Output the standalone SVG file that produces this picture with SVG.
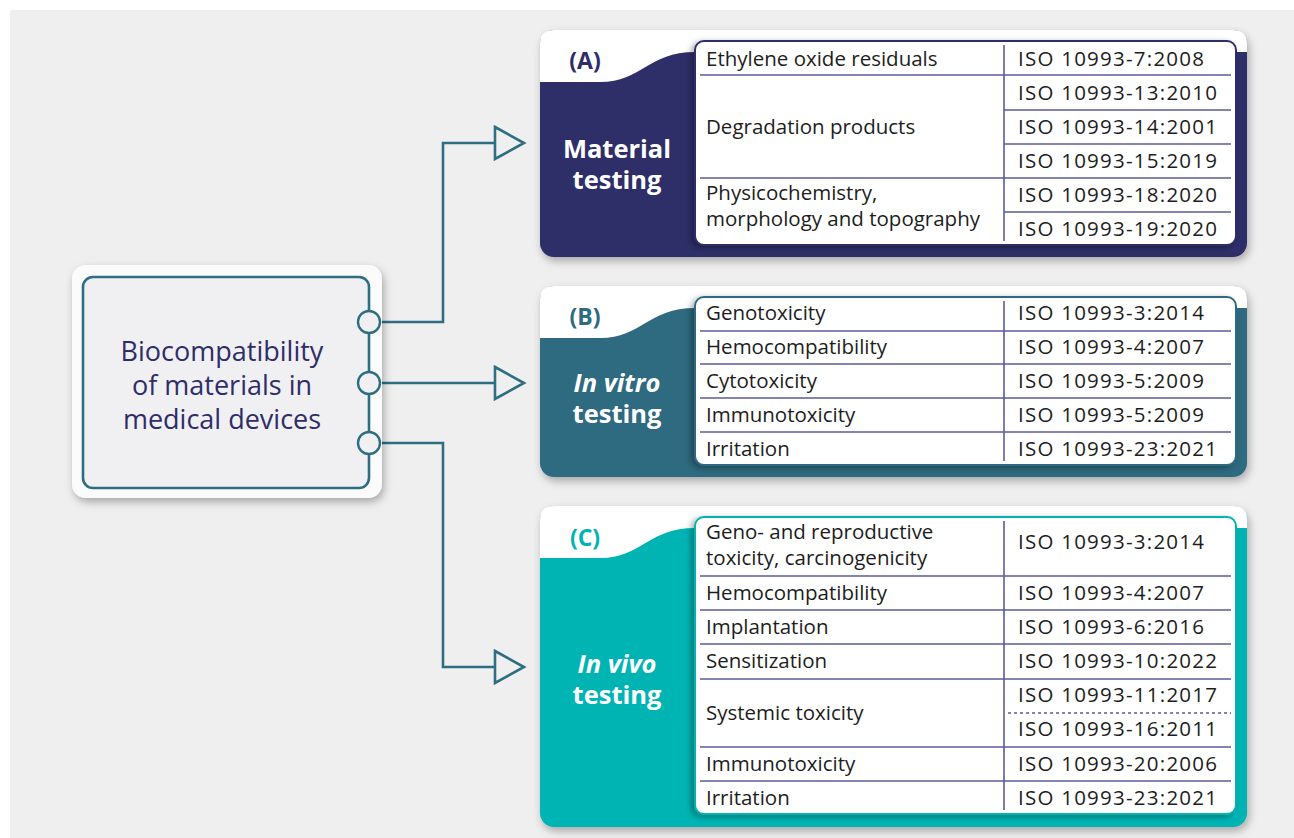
<svg xmlns="http://www.w3.org/2000/svg" width="1294" height="838" viewBox="0 0 1294 838">
  <style>
    .cell { font-family: "Open Sans", "Noto Sans", sans-serif; font-size: 20.5px; fill: #1d1d1d; }
    .node-text { font-family: "Open Sans", "Noto Sans", sans-serif; font-size: 27px; fill: #2e2d69; text-anchor: middle; }
    .tag { font-family: "Open Sans", "Noto Sans", sans-serif; font-size: 23px; font-weight: 700; text-anchor: middle; }
    .title { font-family: "Open Sans", "Noto Sans", sans-serif; font-size: 25.5px; font-weight: 700; fill: #ffffff; text-anchor: middle; }
    .rule { stroke: #5b5b99; stroke-width: 1.6; fill: none; }
    .dotted { stroke: #5b5b99; stroke-width: 1.4; stroke-dasharray: 3 3; fill: none; }
    .table { fill: #ffffff; stroke-width: 2; }
    .link { fill: none; stroke: #2e6e82; stroke-width: 2.6; }
  </style>
  <defs>
    <filter id="cardShadow" x="-5%" y="-8%" width="112%" height="120%">
      <feDropShadow dx="2" dy="4" stdDeviation="4" flood-color="#000" flood-opacity="0.3"/>
    </filter>
    <filter id="tableShadow" x="-5%" y="-8%" width="110%" height="116%">
      <feDropShadow dx="-3" dy="2" stdDeviation="3" flood-color="#000" flood-opacity="0.35"/>
    </filter>
    <marker id="openArrow" markerUnits="userSpaceOnUse" viewBox="-2 -2 34 36" refX="0" refY="16" markerWidth="34" markerHeight="36" orient="auto">
      <path d="M0,0 L29,16 L0,32 Z" fill="#efefef" stroke="#2e6e82" stroke-width="2.6" stroke-linejoin="miter"/>
    </marker>
  </defs>

  <!-- page background -->
  <rect x="0" y="0" width="1294" height="838" fill="#ffffff"/>
  <rect x="10" y="10" width="1284" height="828" fill="#efefef"/>

  <!-- connectors -->
  <g id="connectors">
    <path class="link" d="M380,322 H443 V143 H495" marker-end="url(#openArrow)"/>
    <path class="link" d="M380,383 H495" marker-end="url(#openArrow)"/>
    <path class="link" d="M380,443 H443 V667 H495" marker-end="url(#openArrow)"/>
  </g>

  <!-- source node -->
  <g id="node-biocompatibility">
    <rect x="72" y="265" width="310" height="233" rx="14" fill="#fbfbfb" filter="url(#cardShadow)"/>
    <rect x="83" y="277" width="286" height="211" rx="10" fill="#f0f0f2" stroke="#2e6e82" stroke-width="2.6"/>
    <circle cx="369" cy="322" r="11" fill="#f0f0f2" stroke="#2e6e82" stroke-width="2.4"/>
    <circle cx="369" cy="383" r="11" fill="#f0f0f2" stroke="#2e6e82" stroke-width="2.4"/>
    <circle cx="369" cy="443" r="11" fill="#f0f0f2" stroke="#2e6e82" stroke-width="2.4"/>
    <text class="node-text" x="222" y="361">Biocompatibility<tspan x="222" dy="34">of materials in</tspan><tspan x="222" dy="34">medical devices</tspan></text>
  </g>

  <!-- (A) Material testing -->
  <g id="panel-material">
    <rect x="540" y="30" width="707" height="227" rx="14" fill="#2e2d69" filter="url(#cardShadow)"/>
    <path d="M540,82 L600,82 C642,82 648,52 695,52 L1247,52 L1247,44 Q1247,30 1233,30 L554,30 Q540,30 540,44 Z" fill="#ffffff"/>
    <text class="tag" x="585" y="69" fill="#2e2d69">(A)</text>
    <text class="title" x="617" y="158">Material<tspan x="617" dy="31">testing</tspan></text>
    <rect class="table" x="695" y="41" width="541" height="204" rx="9" stroke="#2e2d69" filter="url(#tableShadow)"/>
    <line class="rule" x1="1004" y1="45" x2="1004" y2="241"/>
    <line class="rule" x1="700" y1="75" x2="1231" y2="75"/>
    <line class="rule" x1="1004" y1="110" x2="1231" y2="110"/>
    <line class="rule" x1="1004" y1="144" x2="1231" y2="144"/>
    <line class="rule" x1="700" y1="178" x2="1231" y2="178"/>
    <line class="rule" x1="1004" y1="212" x2="1231" y2="212"/>
    <text class="cell" x="706" y="66">Ethylene oxide residuals</text>
    <text class="cell" x="706" y="134">Degradation products</text>
    <text class="cell" x="706" y="200">Physicochemistry,<tspan x="706" dy="26">morphology and topography</tspan></text>
    <text class="cell" x="1018" y="66" textLength="186" lengthAdjust="spacing">ISO 10993-7:2008</text>
    <text class="cell" x="1018" y="100" textLength="199" lengthAdjust="spacing">ISO 10993-13:2010</text>
    <text class="cell" x="1018" y="134" textLength="199" lengthAdjust="spacing">ISO 10993-14:2001</text>
    <text class="cell" x="1018" y="168" textLength="199" lengthAdjust="spacing">ISO 10993-15:2019</text>
    <text class="cell" x="1018" y="202" textLength="199" lengthAdjust="spacing">ISO 10993-18:2020</text>
    <text class="cell" x="1018" y="236" textLength="199" lengthAdjust="spacing">ISO 10993-19:2020</text>
  </g>

  <!-- (B) In vitro testing -->
  <g id="panel-in-vitro">
    <rect x="540" y="286" width="707" height="191" rx="14" fill="#2e6b80" filter="url(#cardShadow)"/>
    <path d="M540,338 L600,338 C642,338 648,308 695,308 L1247,308 L1247,300 Q1247,286 1233,286 L554,286 Q540,286 540,300 Z" fill="#ffffff"/>
    <text class="tag" x="585" y="325" fill="#2e6b80">(B)</text>
    <text class="title" x="617" y="392"><tspan font-style="italic">In vitro</tspan><tspan x="617" dy="31">testing</tspan></text>
    <rect class="table" x="695" y="297" width="541" height="168" rx="9" stroke="#2e6b80" filter="url(#tableShadow)"/>
    <line class="rule" x1="1004" y1="301" x2="1004" y2="461"/>
    <line class="rule" x1="700" y1="331" x2="1231" y2="331"/>
    <line class="rule" x1="700" y1="364" x2="1231" y2="364"/>
    <line class="rule" x1="700" y1="398" x2="1231" y2="398"/>
    <line class="rule" x1="700" y1="432" x2="1231" y2="432"/>
    <text class="cell" x="706" y="320">Genotoxicity</text>
    <text class="cell" x="706" y="354">Hemocompatibility</text>
    <text class="cell" x="706" y="388">Cytotoxicity</text>
    <text class="cell" x="706" y="422">Immunotoxicity</text>
    <text class="cell" x="706" y="456">Irritation</text>
    <text class="cell" x="1018" y="320" textLength="186" lengthAdjust="spacing">ISO 10993-3:2014</text>
    <text class="cell" x="1018" y="354" textLength="186" lengthAdjust="spacing">ISO 10993-4:2007</text>
    <text class="cell" x="1018" y="388" textLength="186" lengthAdjust="spacing">ISO 10993-5:2009</text>
    <text class="cell" x="1018" y="422" textLength="186" lengthAdjust="spacing">ISO 10993-5:2009</text>
    <text class="cell" x="1018" y="456" textLength="199" lengthAdjust="spacing">ISO 10993-23:2021</text>
  </g>

  <!-- (C) In vivo testing -->
  <g id="panel-in-vivo">
    <rect x="540" y="506" width="707" height="321" rx="14" fill="#00b4b4" filter="url(#cardShadow)"/>
    <path d="M540,558 L600,558 C642,558 648,528 695,528 L1247,528 L1247,520 Q1247,506 1233,506 L554,506 Q540,506 540,520 Z" fill="#ffffff"/>
    <text class="tag" x="585" y="546" fill="#00b4b4">(C)</text>
    <text class="title" x="617" y="673"><tspan font-style="italic">In vivo</tspan><tspan x="617" dy="31">testing</tspan></text>
    <rect class="table" x="695" y="517" width="541" height="297" rx="9" stroke="#00b4b4" filter="url(#tableShadow)"/>
    <line class="rule" x1="1004" y1="521" x2="1004" y2="810"/>
    <line class="rule" x1="700" y1="576" x2="1231" y2="576"/>
    <line class="rule" x1="700" y1="610" x2="1231" y2="610"/>
    <line class="rule" x1="700" y1="644" x2="1231" y2="644"/>
    <line class="rule" x1="700" y1="679" x2="1231" y2="679"/>
    <line class="dotted" x1="1008" y1="713" x2="1231" y2="713"/>
    <line class="rule" x1="700" y1="747" x2="1231" y2="747"/>
    <line class="rule" x1="700" y1="781" x2="1231" y2="781"/>
    <text class="cell" x="706" y="539">Geno- and reproductive<tspan x="706" dy="26">toxicity, carcinogenicity</tspan></text>
    <text class="cell" x="706" y="600">Hemocompatibility</text>
    <text class="cell" x="706" y="634">Implantation</text>
    <text class="cell" x="706" y="668">Sensitization</text>
    <text class="cell" x="706" y="720">Systemic toxicity</text>
    <text class="cell" x="706" y="771">Immunotoxicity</text>
    <text class="cell" x="706" y="805">Irritation</text>
    <text class="cell" x="1018" y="549" textLength="186" lengthAdjust="spacing">ISO 10993-3:2014</text>
    <text class="cell" x="1018" y="600" textLength="186" lengthAdjust="spacing">ISO 10993-4:2007</text>
    <text class="cell" x="1018" y="634" textLength="186" lengthAdjust="spacing">ISO 10993-6:2016</text>
    <text class="cell" x="1018" y="668" textLength="199" lengthAdjust="spacing">ISO 10993-10:2022</text>
    <text class="cell" x="1018" y="702" textLength="199" lengthAdjust="spacing">ISO 10993-11:2017</text>
    <text class="cell" x="1018" y="736" textLength="199" lengthAdjust="spacing">ISO 10993-16:2011</text>
    <text class="cell" x="1018" y="771" textLength="199" lengthAdjust="spacing">ISO 10993-20:2006</text>
    <text class="cell" x="1018" y="805" textLength="199" lengthAdjust="spacing">ISO 10993-23:2021</text>
  </g>
</svg>
